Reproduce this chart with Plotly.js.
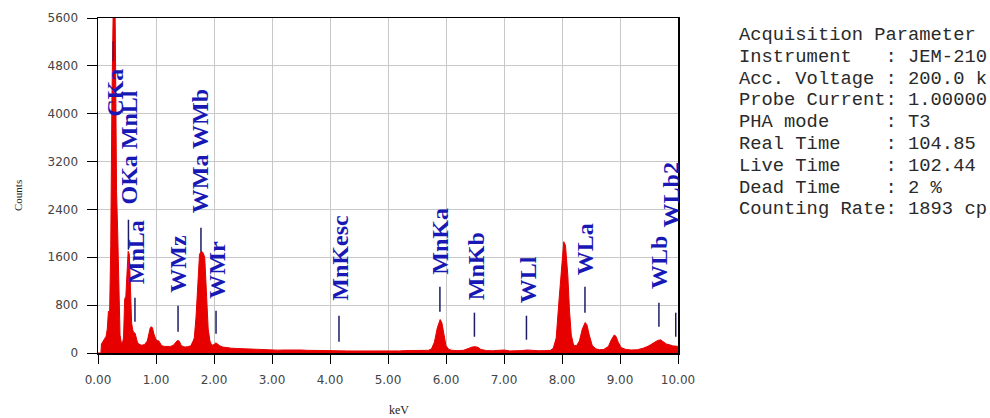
<!DOCTYPE html>
<html>
<head>
<meta charset="utf-8">
<script src="https://cdn.plot.ly/plotly-3.0.1.min.js"></script>
<style>html,body{margin:0;padding:0;background:#fff;}#chart{width:990px;height:418px;}</style>
</head>
<body>
<div id="chart"></div>
<script>
// ---------------- DATA ----------------
const energyKeV = [
  0.00,0.05,0.06,0.08,0.10,0.12,0.14,0.16,0.18,0.20,0.22,0.24,0.26,0.28,0.30,0.32,0.34,0.36,0.38,0.40,
  0.42,0.44,0.46,0.48,0.50,0.52,0.54,0.56,0.58,0.60,0.62,0.64,0.66,0.68,0.70,0.75,0.80,0.85,0.88,0.90,
  0.92,0.94,0.96,0.98,1.00,1.02,1.05,1.08,1.10,1.15,1.20,1.25,1.30,1.34,1.37,1.40,1.43,1.46,1.50,1.55,
  1.60,1.64,1.66,1.69,1.72,1.75,1.78,1.81,1.84,1.87,1.90,1.93,1.96,2.00,2.03,2.06,2.10,2.15,2.20,2.30,
  2.40,2.50,2.60,2.70,2.80,2.90,3.00,3.10,3.20,3.30,3.40,3.50,3.60,3.70,3.80,3.90,4.00,4.10,4.20,4.30,
  4.40,4.50,4.60,4.70,4.80,4.90,5.00,5.10,5.20,5.30,5.40,5.50,5.60,5.70,5.75,5.80,5.85,5.90,5.93,5.96,
  6.00,6.05,6.10,6.20,6.30,6.40,6.45,6.50,6.55,6.60,6.70,6.80,6.90,6.95,7.00,7.10,7.20,7.30,7.40,7.50,
  7.60,7.70,7.80,7.85,7.90,7.95,8.00,8.03,8.06,8.10,8.13,8.16,8.20,8.25,8.30,8.35,8.40,8.43,8.47,8.52,
  8.58,8.65,8.72,8.80,8.85,8.90,8.93,8.97,9.02,9.10,9.20,9.30,9.40,9.50,9.58,9.65,9.70,9.75,9.80,9.85,
  9.90,9.95,10.00
];
const counts = [
  0,0,150,180,200,230,280,400,700,650,1800,4200,6500,7000,5200,2700,2000,900,300,180,
  160,250,900,950,1300,1700,1650,1100,500,380,340,330,250,180,150,130,140,200,330,420,
  440,420,330,250,220,210,200,150,120,110,105,110,130,180,210,200,140,110,100,105,
  120,200,250,600,1200,1650,1700,1680,1600,1000,400,200,130,140,170,150,120,100,90,80,
  75,70,65,60,55,55,50,48,50,52,58,50,45,42,40,38,38,36,35,35,
  34,33,33,34,32,30,30,32,35,40,42,38,40,45,70,180,420,560,500,300,
  120,60,45,40,45,80,100,105,95,60,40,38,50,55,50,35,35,40,50,40,
  38,40,45,80,250,900,1600,1860,1800,1300,700,300,130,120,200,400,510,470,300,130,
  70,55,60,110,220,300,280,180,90,60,50,55,80,120,170,210,220,190,150,140,
  120,115,110
];

// X-ray line identifications (name, energy in keV)
const lineNames    = ["CKa","OKa MnLl","MnLa","WMz","WMa WMb","WMr","MnKesc","MnKa","MnKb","WLl","WLa","WLb","WLb2"];
const lineEnergies = [0.277, 0.540, 0.637, 1.380, 1.775, 2.035, 4.155, 5.895, 6.490, 7.387, 8.396, 9.671, 9.961];

const xTickVals = [0,1,2,3,4,5,6,7,8,9,10];
const yTickVals = [0,800,1600,2400,3200,4000,4800,5600];

const acquisitionLines = [
  "Acquisition Parameter",
  "Instrument   : JEM-210",
  "Acc. Voltage : 200.0 k",
  "Probe Current: 1.00000",
  "PHA mode     : T3",
  "Real Time    : 104.85",
  "Live Time    : 102.44",
  "Dead Time    : 2 %",
  "Counting Rate: 1893 cp"
];

// ---------------- LAYOUT (positions / styles) ----------------
const labelCenterY = [4350, 3440, 1685, 1493, 3373, 1392, 1593, 1877, 1459, 1225, 1735, 1518, 2646];
const labelXShift  = [1, 0, 1, 0, -1, 1, 1, 0, 1, 1, 0, 0, -5];
const markerTop    = [null, 2228, 924, 791, 2095, 707, 623, 1108, 674, 623, 1108, 841, 674];
const markerBottom = [null, 1727, 523, 356, 1694, 323, 189, 690, 272, 222, 674, 440, 272];
const markerX      = [0.277, 0.525, 0.637, 1.380, 1.775, 2.035, 4.155, 5.895, 6.490, 7.387, 8.396, 9.671, 9.961];

const L = 98, R = 678, T = 18, B = 353;
const PW = R - L, PH = B - T;
const px2paperX = px => (px - L) / PW;
const px2paperY = py => (B - py) / PH;

const labelColor = "#1818b4";
const markerColor = "#1c1c66";

const annotations = [];
const shapes = [];

lineNames.forEach((name, i) => {
  annotations.push({
    xref: "x", yref: "y", x: lineEnergies[i], y: labelCenterY[i],
    text: name, showarrow: false, textangle: -90,
    xanchor: "center", yanchor: "middle", xshift: labelXShift[i],
    font: {family: "Liberation Serif, Times New Roman, serif", size: 24, color: labelColor, weight: "bold"}
  });
  if (markerTop[i] !== null) {
    shapes.push({
      type: "line", xref: "x", yref: "y",
      x0: markerX[i], x1: markerX[i], y0: markerBottom[i], y1: markerTop[i],
      line: {color: markerColor, width: 1.5}
    });
  }
});

// dark overlay tick on top of C peak
shapes.push({type: "line", xref: "x", yref: "y", x0: 0.262, x1: 0.262, y0: 4880, y1: 5210,
  line: {color: "#4a1a55", width: 1.5}});

// axis titles
annotations.push({xref: "paper", yref: "paper", x: px2paperX(18), y: px2paperY(196),
  text: "Counts", showarrow: false, textangle: -90, xanchor: "center", yanchor: "middle",
  font: {family: "Liberation Serif, Times New Roman, serif", size: 11, color: "#222"}});
annotations.push({xref: "paper", yref: "paper", x: px2paperX(399), y: px2paperY(410),
  text: "keV", showarrow: false, xanchor: "center", yanchor: "middle",
  font: {family: "Liberation Serif, Times New Roman, serif", size: 12, color: "#222"}});

// acquisition parameter block
acquisitionLines.forEach((t, i) => {
  annotations.push({xref: "paper", yref: "paper", x: px2paperX(737), y: px2paperY(35 + i * 21.8),
    text: t.replace(/ /g, "\u00A0"), showarrow: false, xanchor: "left", yanchor: "middle",
    font: {family: "Liberation Mono, Courier New, monospace", size: 18.8, color: "#2a2a2a"}});
});

const trace = {
  x: energyKeV, y: counts, type: "scatter", mode: "lines",
  fill: "tozeroy", fillcolor: "#e60000",
  line: {color: "#e60000", width: 1},
  hoverinfo: "skip"
};

const tickFont = {family: "DejaVu Sans, Verdana, sans-serif", size: 12, color: "#444"};

const layout = {
  width: 990, height: 418,
  margin: {l: L, r: 990 - R, t: T, b: 418 - B, pad: 0},
  paper_bgcolor: "#ffffff", plot_bgcolor: "#ffffff",
  showlegend: false,
  xaxis: {
    range: [0, 10], tickvals: xTickVals, ticktext: xTickVals.map(v => v.toFixed(2)),
    ticks: "outside", ticklen: 9, tickcolor: "#000", tickwidth: 1,
    showline: true, linecolor: "#000", linewidth: 1.5, mirror: true,
    showgrid: true, gridcolor: "#c8c8c8", gridwidth: 1, zeroline: false,
    tickfont: tickFont, ticklabelstandoff: 6, fixedrange: true
  },
  yaxis: {
    range: [0, 5600], tickvals: yTickVals, ticktext: yTickVals.map(String),
    ticks: "outside", ticklen: 10, tickcolor: "#000", tickwidth: 1,
    showline: true, linecolor: "#000", linewidth: 1.5, mirror: true,
    showgrid: true, gridcolor: "#c8c8c8", gridwidth: 1, zeroline: false,
    tickfont: tickFont, ticklabelstandoff: 6, fixedrange: true
  },
  annotations: annotations,
  shapes: shapes
};

Plotly.newPlot("chart", [trace], layout, {staticPlot: true, displayModeBar: false});
</script>
</body>
</html>
